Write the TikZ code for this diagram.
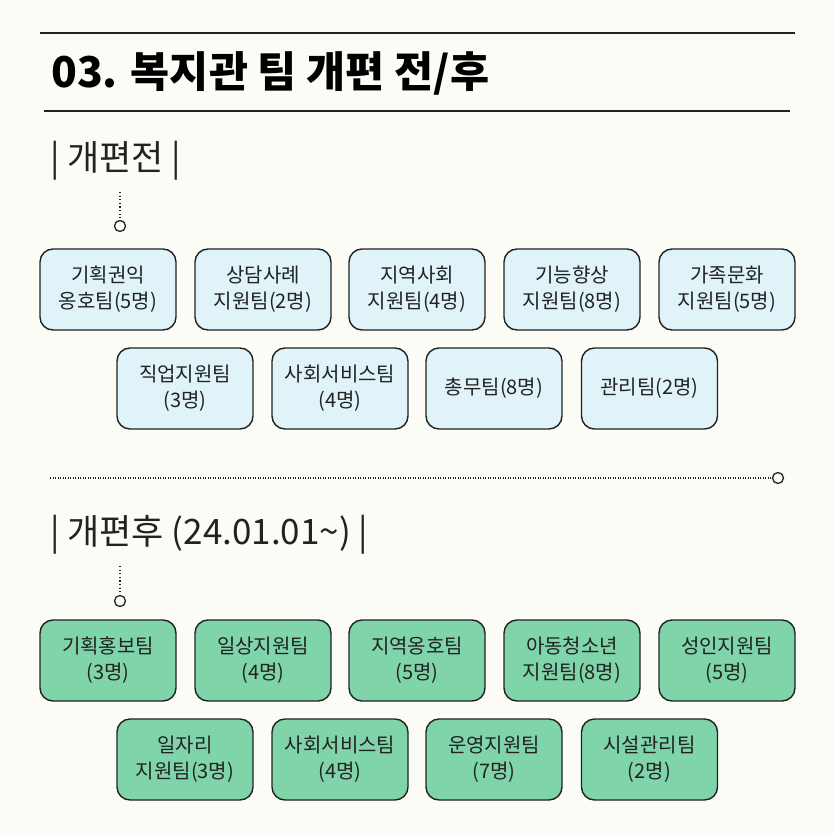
\documentclass[tikz,border=0pt]{standalone}
\usepackage{fontspec}
\setmainfont{Noto Sans CJK KR}
\definecolor{bg}{HTML}{FCFCF7}
\definecolor{ink}{HTML}{222222}
\definecolor{bluefill}{HTML}{DFF3F8}
\definecolor{greenfill}{HTML}{7FD4A9}
\tikzset{
  team/.style={draw=ink, line width=1.4pt, rounded corners=13pt, minimum width=136pt, minimum height=81pt, align=center, inner sep=0pt, font=\fontsize{20}{26}\selectfont, text=ink},
  before/.style={team, fill=bluefill},
  after/.style={team, fill=greenfill},
  dot/.style={circle, draw=ink, line width=1.3pt, fill=bg, minimum size=11pt, inner sep=0pt},
  dotline/.style={draw=ink, line width=1.2pt, dash pattern=on 1.2pt off 2.4pt},
  rule/.style={draw=ink, line width=1.5pt},
  heading/.style={anchor=west, inner sep=0pt, font=\fontsize{35}{37}\selectfont, text=ink},
}
\begin{document}
\begin{tikzpicture}[x=1pt, y=-1pt]
\useasboundingbox[fill=bg] (0,0) rectangle (835,835);
% title rules
\coordinate (r1a) at (40,33); \coordinate (r1b) at (795,33);
\coordinate (r2a) at (44,111); \coordinate (r2b) at (790,111);
\draw[rule] (r1a) -- (r1b);
\draw[rule] (r2a) -- (r2b);
\node[anchor=west, inner sep=0pt, font=\fontsize{42.5}{45}\selectfont\bfseries, text=black] (title) at (51,73) {03. 복지관 팀 개편 전/후};
% before header
\node[heading] (h1) at (50,161) {| 개편전 |};
\coordinate (d1) at (120,192);
\node[dot] (c1) at (120,226) {};
\draw[dotline] (d1) -- (c1);
% before boxes
\node[before] (b1) at (108,289.5) {기획권익\\옹호팀(5명)};
\node[before] (b2) at (263,289.5) {상담사례\\지원팀(2명)};
\node[before] (b3) at (417,289.5) {지역사회\\지원팀(4명)};
\node[before] (b4) at (572,289.5) {기능향상\\지원팀(8명)};
\node[before] (b5) at (727,289.5) {가족문화\\지원팀(5명)};
\node[before] (b6) at (185,388.5) {직업지원팀\\(3명)};
\node[before] (b7) at (340,388.5) {사회서비스팀\\(4명)};
\node[before] (b8) at (494,388.5) {총무팀(8명)};
\node[before] (b9) at (649.5,388.5) {관리팀(2명)};
% separator
\coordinate (s1) at (50,478);
\node[dot] (c2) at (778,478) {};
\draw[draw=ink, line width=1.1pt, dash pattern=on 1pt off 1.5pt] (s1) -- (c2);
% after header
\node[heading] (h2) at (50,535) {| 개편후 (24.01.01\char`~) |};
\coordinate (d2) at (120,566);
\node[dot] (c3) at (120,601) {};
\draw[dotline] (d2) -- (c3);
% after boxes
\node[after] (a1) at (108,660.5) {기획홍보팀\\(3명)};
\node[after] (a2) at (263,660.5) {일상지원팀\\(4명)};
\node[after] (a3) at (417,660.5) {지역옹호팀\\(5명)};
\node[after] (a4) at (572,660.5) {아동청소년\\지원팀(8명)};
\node[after] (a5) at (727,660.5) {성인지원팀\\(5명)};
\node[after] (a6) at (185,759.5) {일자리\\지원팀(3명)};
\node[after] (a7) at (340,759.5) {사회서비스팀\\(4명)};
\node[after] (a8) at (494,759.5) {운영지원팀\\(7명)};
\node[after] (a9) at (649.5,759.5) {시설관리팀\\(2명)};
\end{tikzpicture}
\end{document}
